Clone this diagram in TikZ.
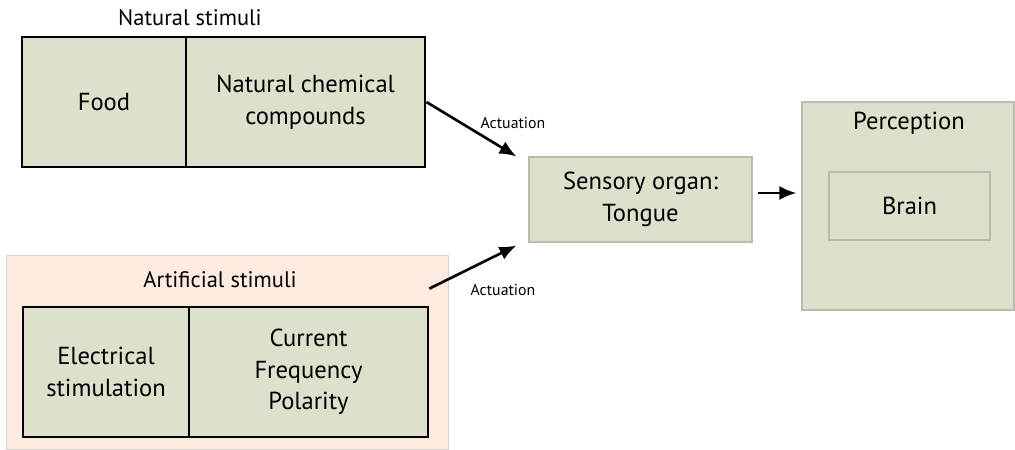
\documentclass[tikz,border=0pt]{standalone}
\usepackage{fontspec}
\setmainfont{PT Sans}
\usepackage{tikz}
\usetikzlibrary{arrows.meta,positioning}
\definecolor{cell}{HTML}{DDE1CC}
\definecolor{peach}{HTML}{FDEBDF}
\definecolor{edge}{HTML}{B9BBAE}

\tikzset{
  stimcell/.style={draw=black,line width=1.6pt,fill=cell,align=center,inner sep=0pt,
    minimum height=26mm,font=\fontsize{14}{18}\selectfont},
  softbox/.style={draw=edge,line width=0.6pt,fill=cell,align=center,inner sep=0pt,
    font=\fontsize{14}{18}\selectfont},
  title/.style={font=\fontsize{12.8}{15}\selectfont},
  actlabel/.style={font=\fontsize{9}{11}\selectfont},
  act/.style={-{Latex[length=3.4mm,width=2.8mm]},line width=1.5pt}
}

\begin{document}
\begin{tikzpicture}[x=0.2mm,y=-0.2mm]
            \useasboundingbox (0,0) rectangle (1015,450);
            % natural stimuli
            \node[title] (natural) at (190,18) {Natural stimuli};
            \node[stimcell,minimum width=32.8mm] (food) at (104,102) {Food};
            \node[stimcell,minimum width=47.8mm] (chem) at (305.5,102) {Natural chemical\\compounds};
            % artificial stimuli
            \node[fill=peach,draw=edge!60,line width=0.4pt,minimum width=88.4mm,minimum height=38.8mm,inner sep=0pt] (artbg) at (227,352) {};
            \node[title] (artificial) at (220,280) {Artificial stimuli};
            \node[stimcell,minimum width=33.2mm] (elec) at (106,372) {Electrical\\stimulation};
            \node[stimcell,minimum width=47.8mm] (curr) at (308.5,372) {Current\\Frequency\\Polarity};
            % sensing and perception
            \node[softbox,minimum width=44.6mm,minimum height=17mm] (tongue) at (640.5,199.5) {Sensory organ:\\Tongue};
            \node[softbox,minimum width=42.4mm,minimum height=41.6mm] (perc) at (908,206) {};
            \node[title,font=\fontsize{14}{17}\selectfont] (perctitle) at (909,123) {Perception};
            \node[softbox,minimum width=32.2mm,minimum height=13.6mm] (brain) at (909.5,206) {Brain};
            % arrows
            \coordinate (topend) at ([xshift=-2.4mm]tongue.north west);
            \coordinate (botstart) at ([yshift=3.4mm]curr.north east);
            \coordinate (botend) at ([xshift=-2.4mm,yshift=-0.6mm]tongue.south west);
            \draw[act] (chem.east) -- (topend);
            \draw[act] (botstart) -- (botend);
            \node[actlabel] (act1) at (513,123) {Actuation};
            \node[actlabel] (act2) at (503,290) {Actuation};
            \draw[act] ([xshift=1mm,yshift=1.3mm]tongue.east) -- ([xshift=-1mm,yshift=1.3mm]tongue.east -| perc.west);
        \end{tikzpicture}
\end{document}
